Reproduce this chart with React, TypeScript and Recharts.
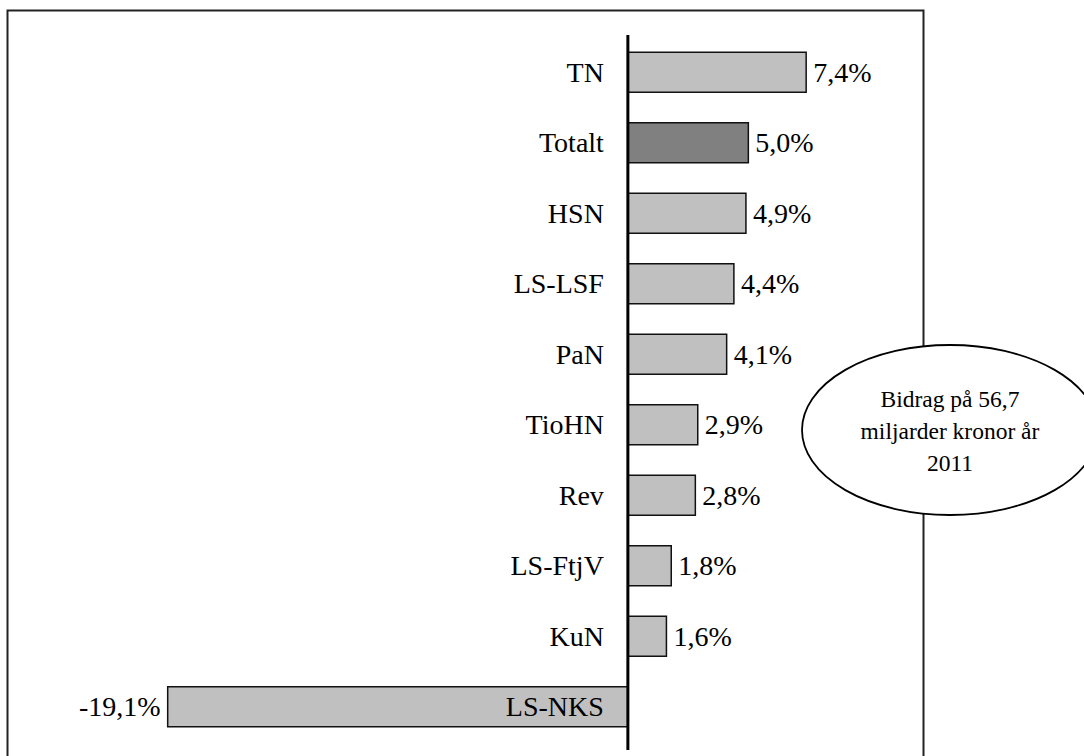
import { BarChart, Bar, XAxis, YAxis, Cell, LabelList, ReferenceLine } from 'recharts'

const categories = ['TN', 'Totalt', 'HSN', 'LS-LSF', 'PaN', 'TioHN', 'Rev', 'LS-FtjV', 'KuN', 'LS-NKS']
const shares = [7.4, 5.0, 4.9, 4.4, 4.1, 2.9, 2.8, 1.8, 1.6, -19.1]
const noteLines = ['Bidrag på 56,7', 'miljarder kronor år', '2011']

const FONT = '"Liberation Serif", "Times New Roman", serif'

function fmtPct(v: number) {
  return `${v.toFixed(1).replace('.', ',')}%`
}

const data = categories.map((name, i) => ({ name, value: shares[i] }))

function BarLabels(props: any) {
  const { x, y, width, height, index } = props
  const v = shares[index]
  const left = Math.min(Number(x), Number(x) + Number(width))
  const right = Math.max(Number(x), Number(x) + Number(width))
  const zero = v >= 0 ? left : right
  const cy = Number(y) + Number(height) / 2
  return (
    <g fontFamily={FONT} fontSize={28} fill="#000">
      <text x={zero - 24} y={cy} dy="0.34em" textAnchor="end">{categories[index]}</text>
      {v >= 0 ? (
        <text x={right + 7} y={cy} dy="0.34em" textAnchor="start">{fmtPct(v)}</text>
      ) : (
        <text x={left - 7} y={cy} dy="0.34em" textAnchor="end">{fmtPct(v)}</text>
      )}
    </g>
  )
}

export default function App() {
  return (
    <div style={{ position: 'absolute', left: 0, top: 0, width: 1084, height: 756, background: '#fff' }}>
      <BarChart
        width={1084}
        height={756}
        data={data}
        layout="vertical"
        margin={{ top: 35, right: 167, bottom: 6, left: 146 }}
        barCategoryGap="21.5%"
      >
        <XAxis type="number" domain={[-20, 12]} hide />
        <YAxis type="category" dataKey="name" hide padding={{ top: 2, bottom: 8 }} />
        <Bar dataKey="value" stroke="#111" strokeWidth={1.5} isAnimationActive={false}>
          {data.map((d) => (
            <Cell key={d.name} fill={d.name === 'Totalt' ? '#808080' : '#c0c0c0'} />
          ))}
          <LabelList dataKey="value" content={BarLabels} />
        </Bar>
        <ReferenceLine x={0} stroke="#000" strokeWidth={3} />
      </BarChart>
      <svg
        width={1084}
        height={756}
        style={{ position: 'absolute', left: 0, top: 0, pointerEvents: 'none' }}
      >
        <rect x={7.5} y={10.5} width={916} height={800} fill="none" stroke="#222" strokeWidth={2} />
        <ellipse cx={950} cy={430} rx={148} ry={85} fill="#fff" stroke="#000" strokeWidth={1.8} />
        <g fontFamily={FONT} fontSize={23.5} fill="#000" textAnchor="middle">
          {noteLines.map((line, i) => (
            <text key={line} x={950} y={399 + i * 32} dy="0.34em">{line}</text>
          ))}
        </g>
      </svg>
    </div>
  )
}
